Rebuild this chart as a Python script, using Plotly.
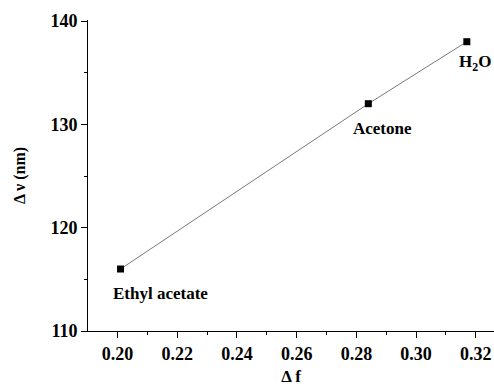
import plotly.graph_objects as go

# Solvent polarity vs. Stokes shift
solvents = ["Ethyl acetate", "Acetone", "H<sub>2</sub>O"]
delta_f = [0.201, 0.284, 0.317]
delta_nu = [116, 132, 138]

x_ticks = [0.20, 0.22, 0.24, 0.26, 0.28, 0.30, 0.32]
y_ticks = [110, 120, 130, 140]

# label placement relative to each point (data units)
label_dx = [0.0135, 0.0046, 0.0088]
label_dy = [-2.4, -2.4, -2.1]
label_anchor = ["center", "center", "right"]

font_family = "Liberation Serif"

fig = go.Figure()
fig.add_trace(go.Scatter(
    x=delta_f, y=delta_nu, mode="lines",
    line=dict(color="#7a7a7a", width=1), showlegend=False, hoverinfo="skip",
))
fig.add_trace(go.Scatter(
    x=delta_f, y=delta_nu, mode="markers",
    marker=dict(symbol="square", size=7, color="black"), showlegend=False,
))

for name, xv, yv, dx, dy, anc in zip(solvents, delta_f, delta_nu, label_dx, label_dy, label_anchor):
    fig.add_annotation(
        x=xv + dx, y=yv + dy, text=f"<b>{name}</b>", showarrow=False,
        xanchor=anc, yanchor="middle",
        font=dict(family=font_family, size=17, color="black"),
    )

axis_common = dict(
    showline=True, linecolor="black", linewidth=1,
    ticks="outside", ticklen=6, tickwidth=1, tickcolor="black",
    showgrid=False, zeroline=False,
    tickfont=dict(family=font_family, size=18, color="black"),
)

fig.update_xaxes(
    range=[0.1901, 0.3261], tickvals=x_ticks,
    ticktext=[f"<b>{v:.2f}</b>" for v in x_ticks],
    minor=dict(ticks="outside", ticklen=3, tickcolor="black", dtick=0.01, tick0=0.19),
    title=dict(text="<b>Δ f</b>", font=dict(family=font_family, size=17, color="black"), standoff=8),
    **axis_common,
)
fig.update_yaxes(
    range=[110, 140.1], tickvals=y_ticks,
    ticktext=[f"<b>{v}</b>" for v in y_ticks],
    minor=dict(ticks="outside", ticklen=3, tickcolor="black", dtick=5, tick0=110),
    title=dict(text="<b>Δ ν (nm)</b>", font=dict(family=font_family, size=16, color="black"), standoff=20),
    **axis_common,
)

fig.update_layout(
    width=494, height=386,
    margin=dict(l=88, r=0, t=20, b=55),
    paper_bgcolor="white", plot_bgcolor="white",
)

fig.write_html("out.html")
